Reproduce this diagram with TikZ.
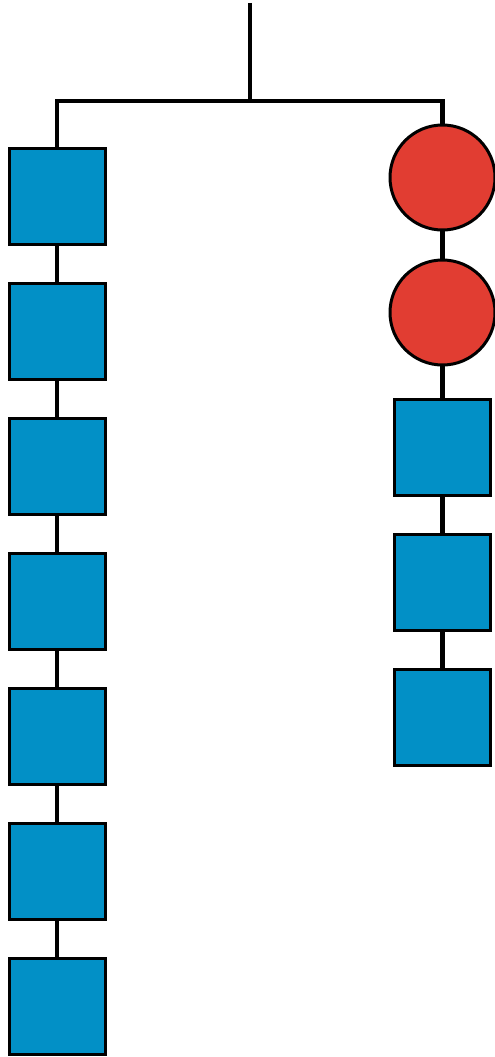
\documentclass[tikz,border=0pt]{standalone}
\definecolor{boxblue}{HTML}{0290C6}
\definecolor{ballred}{HTML}{E13D32}
\tikzset{
  sq/.style={draw=black, line width=3pt, fill=boxblue, rectangle, minimum size=96pt, inner sep=0pt},
  ball/.style={draw=black, line width=3pt, fill=ballred, circle, minimum size=105pt, inner sep=0pt},
  link/.style={draw=black, line width=4.5pt, line join=miter}
}
\begin{document}
\begin{tikzpicture}[x=1pt,y=-1pt]
\useasboundingbox (0,0) rectangle (495,1057);
% coordinates
\coordinate (top) at (250,3);
\coordinate (mid) at (250,101);
\coordinate (lc) at (57,101);
\coordinate (rc) at (442.5,101);
\coordinate (lend) at (57,1006.5);
\coordinate (rend) at (442.5,717.5);
% links (drawn first, nodes on top)
\path[link] (top) -- (mid);
\path[link] (lend) -- (lc) -- (rc) -- (rend);
% left chain
\foreach \i in {0,...,6} {
  \node[sq] (L\i) at (57,{196.5+135*\i}) {};
}
% right chain
\node[ball] (C1) at (442.5,177.5) {};
\node[ball] (C2) at (442.5,312.5) {};
\node[sq] (R1) at (442.5,447.5) {};
\node[sq] (R2) at (442.5,582.5) {};
\node[sq] (R3) at (442.5,717.5) {};
\end{tikzpicture}
\end{document}
